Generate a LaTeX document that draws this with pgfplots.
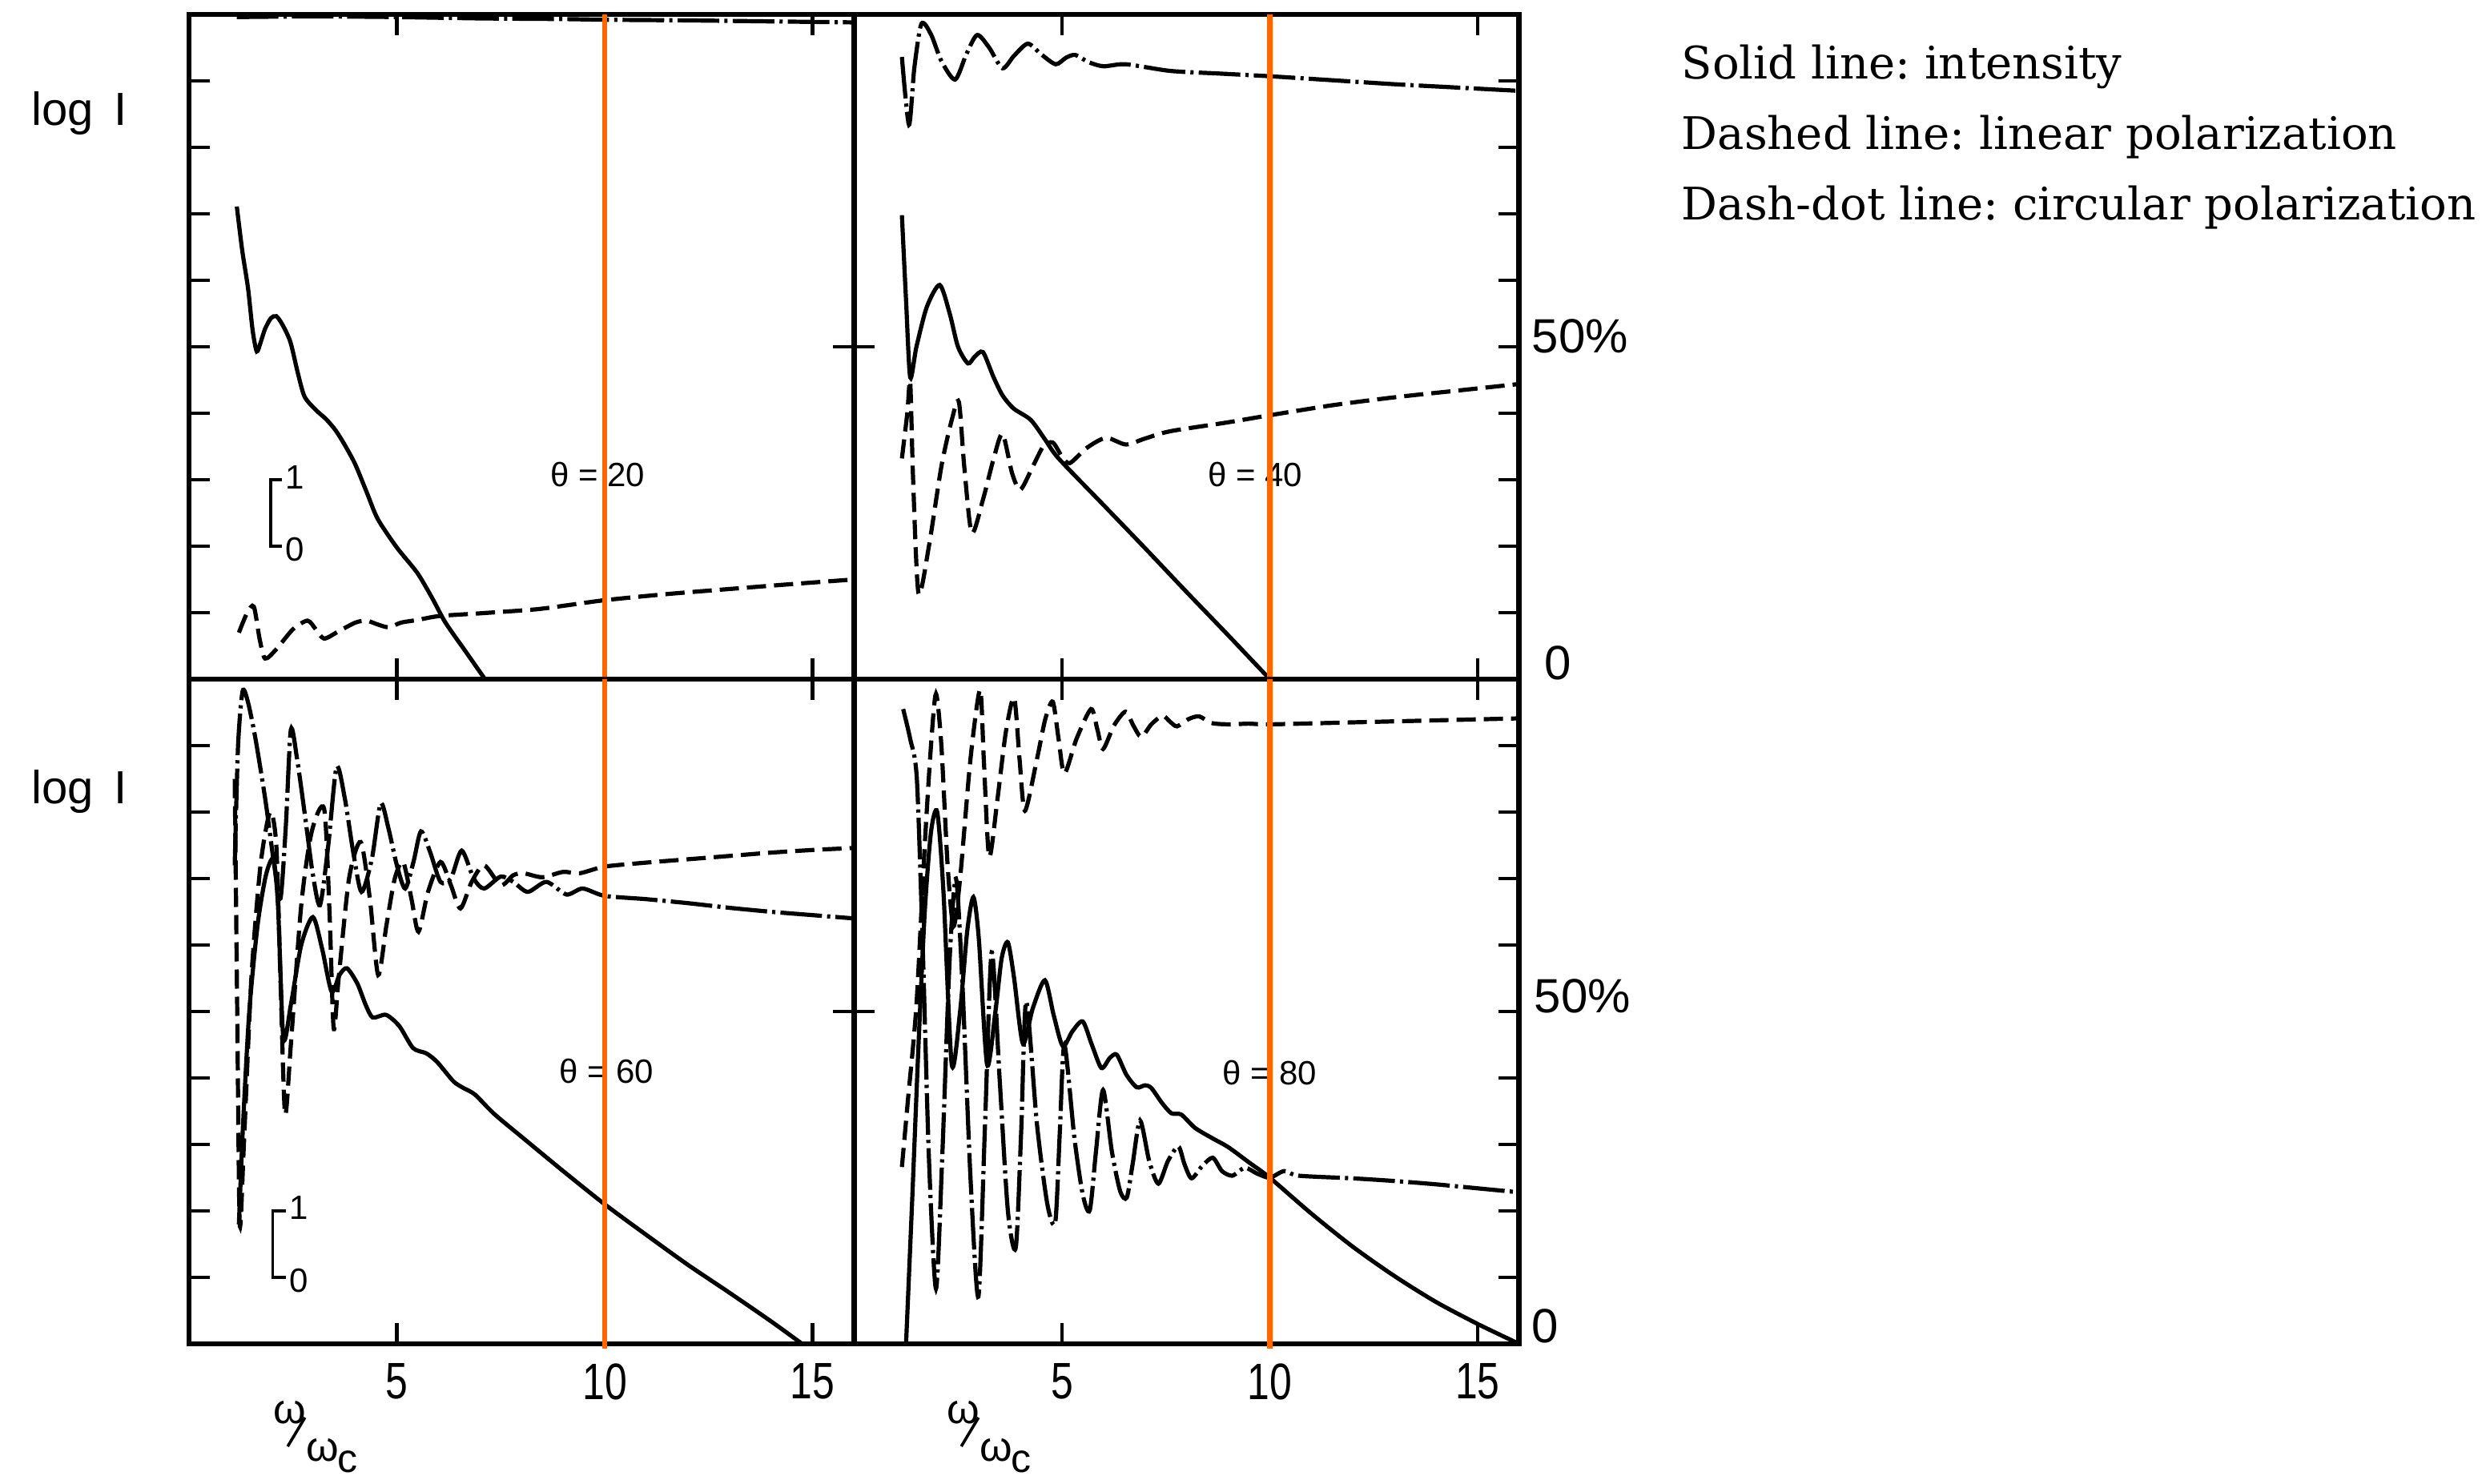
\documentclass[border=0pt]{standalone}
\usepackage{pgfplots}
\pgfplotsset{compat=1.18}
\usepackage{fontspec}
\setmainfont{Liberation Sans}
\newfontfamily\legfont{DejaVu Serif}
\definecolor{orng}{RGB}{255,102,0}
\newcommand\fs[1]{\fontsize{#1}{#1}\selectfont}
\newcommand\nrw[1]{\scalebox{0.78}[1]{#1}}
\frenchspacing
\pgfplotsset{
 panel/.style={scale only axis, width=207.6pt, height=207.5pt, anchor=north west,
   xmin=0, xmax=16, ymin=0, ymax=100, xtick={5,10,15}, ytick={10,20,...,90},
   xticklabel=\empty, yticklabel=\empty, tick align=inside, major tick length=6.5pt,
   tick style={black, line width=1.2pt}, axis line style={line width=1.7pt}, clip=false},
 sol/.style={black, line width=1.3pt, smooth, tension=0.45, no marks},
 dsh/.style={black, line width=1.3pt, smooth, tension=0.45, no marks, dash pattern=on 6pt off 2.5pt},
 dd/.style={black, line width=1.3pt, smooth, tension=0.45, no marks, dash pattern=on 13pt off 1.6pt on 1pt off 1.6pt},
}
\begin{document}
\begin{tikzpicture}[x=1pt,y=1pt]
\useasboundingbox (0,0) rectangle (776,-463);
\fill[white] (0,0) rectangle (776,-463);

% ---------- top left, theta = 20
\begin{axis}[panel, at={(59pt,-4.5pt)}, ytick pos=left]
\addplot[dd] coordinates {(1.15,99.6) (3,99.7) (5,99.6) (7,99.4) (9,99.3) (10,99.2) (12,99.1) (14,98.95) (16,98.8)};
\addplot[dsh] coordinates {(1.2,7) (1.4,10) (1.56,10.9) (1.7,6) (1.83,3.1) (2.1,4.5) (2.5,7.5) (2.85,8.8) (3.05,7.5) (3.25,6.1) (3.6,7.2) (4.0,8.5) (4.27,8.8) (4.55,8.2) (4.81,7.8) (5.1,8.5) (5.49,8.9) (6.03,9.5) (7,9.9) (8.34,10.5) (9.2,11.2) (10.03,11.9) (11.5,12.8) (13.08,13.6) (14.5,14.3) (16,15)};
\addplot[sol] coordinates {(1.15,71.1) (1.28,64.5) (1.42,58.8) (1.53,52.5) (1.63,49.3) (1.73,50.8) (1.83,52.7) (1.97,54.3) (2.1,54.6) (2.25,53.3) (2.44,50.7) (2.62,46) (2.78,42.5) (3.05,40.5) (3.3,39.1) (3.53,37.4) (3.75,35.2) (4.0,32.3) (4.27,28.2) (4.54,24.1) (5.0,19.8) (5.49,16) (5.85,12.2) (6.17,8.5) (6.65,4.2) (7.12,0)};
\draw[line width=1.2pt] (axis cs:16,50) -- ++(-6.5pt,0pt);
\draw[line width=0.9pt] (axis cs:2.24,30) -- (axis cs:1.97,30) -- (axis cs:1.97,20) -- (axis cs:2.24,20);
\node[anchor=west, font=\fs{10.5}, inner sep=0pt] at (axis cs:2.3,30.3) {1};
\node[anchor=west, font=\fs{10.5}, inner sep=0pt] at (axis cs:2.3,19.5) {0};
\node[font=\fs{10.5}] at (axis cs:9.83,30.8) {θ = 20};
\draw[orng, line width=1.7pt] (axis cs:10,0) -- (axis cs:10,100);
\end{axis}

% ---------- top right, theta = 40
\begin{axis}[panel, at={(266.6pt,-4.5pt)}, ytick pos=right]
\addplot[dd] coordinates {(1.15,93.6) (1.32,83.4) (1.45,92) (1.62,98.6) (1.85,97) (2.1,93) (2.43,90.2) (2.7,94) (2.96,96.9) (3.25,95) (3.57,91.9) (3.85,93.8) (4.18,95.6) (4.5,94) (4.85,92.5) (5.1,93.5) (5.32,93.9) (5.65,92.8) (6.0,92.2) (6.54,92.5) (7.61,91.5) (8.8,91.1) (10.0,90.7) (11.5,90.1) (13.0,89.5) (14.5,89) (16,88.5)};
\addplot[dsh] coordinates {(1.15,33.2) (1.28,40) (1.35,44.7) (1.42,30) (1.55,12.9) (1.8,20) (2.1,32) (2.35,39) (2.52,41.7) (2.65,32) (2.83,22) (3.1,27) (3.35,33) (3.57,36.9) (3.8,31) (4.0,28.5) (4.3,32) (4.55,35) (4.78,35.6) (5.0,33.5) (5.19,32.5) (5.6,34.8) (6.06,36.3) (6.54,35.3) (7.0,36.2) (7.61,37.3) (8.96,38.6) (10.0,39.7) (11.5,41.2) (13.0,42.4) (14.5,43.4) (16,44.4)};
\addplot[sol] coordinates {(1.15,69.8) (1.25,57) (1.35,45.4) (1.5,50) (1.75,56) (2.06,59.3) (2.3,55) (2.5,50) (2.74,47.5) (2.9,48.5) (3.1,49.2) (3.35,45.5) (3.57,42.7) (3.84,40.7) (4.25,39) (4.6,36) (4.92,33.2) (6,26.2) (7,19.7) (8,13.1) (9,6.6) (10,0)};
\draw[line width=1.2pt] (axis cs:0,50) -- ++(6.5pt,0pt);
\node[font=\fs{10.5}] at (axis cs:9.65,30.8) {θ = 40};
\draw[orng, line width=1.7pt] (axis cs:10,0) -- (axis cs:10,100);
\end{axis}

% ---------- bottom left, theta = 60
\begin{axis}[panel, at={(59pt,-212pt)}, ytick pos=left]
\addplot[dd] coordinates {(1.1,72) (1.18,90) (1.29,98.2) (1.42,96.5) (1.6,91) (1.84,81.7) (2.05,72) (2.2,67) (2.33,78) (2.45,92.4) (2.6,88) (2.8,79) (2.97,71) (3.15,66) (3.35,75) (3.55,86.8) (3.75,82) (3.95,74) (4.15,68) (4.4,73) (4.61,81.3) (4.8,77.5) (5.0,72) (5.2,68.5) (5.4,72.5) (5.58,77.1) (5.8,74) (6.05,69.5) (6.3,70) (6.56,74.2) (6.85,70) (7.1,68.5) (7.5,70.3) (7.8,69.5) (8.15,68) (8.6,69.5) (9.08,67.6) (9.47,68.5) (10,67.4) (11,66.9) (12,66.3) (13,65.6) (14,65) (15,64.5) (16,64)};
\addplot[dsh] coordinates {(1.1,85) (1.16,50) (1.22,18) (1.32,30) (1.5,55) (1.72,72) (1.95,80) (2.1,75) (2.2,55) (2.31,34.6) (2.45,45) (2.7,66) (2.95,77) (3.25,80.5) (3.38,65) (3.48,47.5) (3.6,55) (3.85,70) (4.13,75.5) (4.35,67) (4.55,55.5) (4.75,63) (4.95,70) (5.15,72.5) (5.35,67) (5.52,62) (5.75,68) (6.05,72.5) (6.3,69) (6.53,65.5) (6.8,69.5) (7.1,72) (7.5,69) (7.8,70.5) (8.05,70.8) (8.5,70.2) (9.0,71) (9.4,70.8) (10,71.8) (11,72.4) (12,72.9) (13,73.4) (14,73.9) (15,74.3) (16,74.6)};
\addplot[sol] coordinates {(1.2,18) (1.3,33) (1.45,50) (1.65,63) (1.85,70.5) (2.03,72.9) (2.14,66) (2.27,46) (2.45,51) (2.7,60) (2.98,64.2) (3.2,59.5) (3.43,53) (3.62,55.5) (3.8,56.5) (4.05,54.2) (4.25,51) (4.42,49.1) (4.74,49.5) (5.06,47.8) (5.39,44.5) (5.71,43.7) (5.97,42.4) (6.36,39.5) (6.6,38.5) (6.88,37.5) (7.34,34.6) (8.05,30.9) (9.0,26) (10,21) (11,16.4) (12,11.9) (13,7.7) (14,3.4) (14.75,0)};
\draw[line width=1.2pt] (axis cs:16,50) -- ++(-6.5pt,0pt);
\draw[line width=0.9pt] (axis cs:2.34,20) -- (axis cs:2.01,20) -- (axis cs:2.01,10) -- (axis cs:2.34,10);
\node[anchor=west, font=\fs{10.5}, inner sep=0pt] at (axis cs:2.4,20.5) {1};
\node[anchor=west, font=\fs{10.5}, inner sep=0pt] at (axis cs:2.4,9.5) {0};
\node[font=\fs{10.5}] at (axis cs:10.04,41) {θ = 60};
\draw[orng, line width=1.7pt] (axis cs:10,-0.7) -- (axis cs:10,100);
\end{axis}

% ---------- bottom right, theta = 80
\begin{axis}[panel, at={(266.6pt,-212pt)}, ytick pos=right]
\addplot[dsh] coordinates {(1.15,26.6) (1.3,37) (1.5,51) (1.7,75) (1.85,90) (1.97,97.8) (2.1,90) (2.25,72) (2.39,62.8) (2.55,70) (2.8,88) (3.03,98.4) (3.12,88) (3.25,73.3) (3.45,82) (3.65,92) (3.85,97.2) (3.98,88) (4.11,80.2) (4.4,88) (4.6,94) (4.78,96.6) (4.92,91) (5.06,85.8) (5.35,91) (5.7,95.5) (5.85,92.5) (5.99,89.5) (6.25,93) (6.53,95.1) (6.72,93) (6.91,91.3) (7.15,93.2) (7.42,94.5) (7.6,93.6) (7.77,92.9) (8.05,94) (8.3,94.4) (8.6,93.4) (9.0,93.2) (9.5,93.3) (10,93.2) (12,93.5) (14,93.8) (16,94.1)};
\addplot[dd] coordinates {(1.18,95.5) (1.35,91) (1.51,85) (1.65,60) (1.8,28) (1.97,8.3) (2.12,28) (2.3,58) (2.45,70) (2.6,55) (2.8,25) (2.99,7.1) (3.15,33) (3.31,58.9) (3.5,40) (3.7,20) (3.89,14.5) (4.02,32) (4.14,51.5) (4.4,33) (4.65,21) (4.84,18.3) (4.95,32) (5.06,45) (5.3,31) (5.5,22.5) (5.67,20.1) (5.82,29) (5.99,38.2) (6.2,29) (6.4,23) (6.56,22) (6.7,27) (6.88,33.6) (7.1,27.5) (7.32,24.1) (7.55,27.5) (7.8,29.7) (7.95,27) (8.12,24.9) (8.38,26.8) (8.63,28) (8.85,26) (9.1,25.3) (9.4,26.5) (9.7,25.6) (10,25) (10.35,26) (10.7,25.3) (12,24.9) (13,24.5) (14,24) (15,23.4) (16,22.8)};
\addplot[sol] coordinates {(1.25,0) (1.4,22) (1.55,45) (1.7,65) (1.85,77) (2.0,80) (2.15,68) (2.35,42) (2.55,50) (2.72,62) (2.87,67.2) (3.0,61) (3.2,42) (3.4,50) (3.55,58) (3.7,60.4) (3.85,55) (4.06,45.2) (4.3,50.5) (4.59,54.7) (4.8,49.5) (5.02,44.8) (5.25,47) (5.5,48.5) (5.72,45) (5.95,41.5) (6.15,43) (6.32,43.5) (6.55,40.5) (6.8,38.6) (7.0,38.9) (7.15,38.5) (7.4,36.3) (7.63,34.7) (7.87,34.5) (8.2,32.5) (8.6,31) (9.0,29.6) (9.5,27.3) (10,25) (11,19.6) (12,14.6) (13,10.2) (14,6.3) (15,3) (16,0)};
\draw[line width=1.2pt] (axis cs:0,50) -- ++(6.5pt,0pt);
\node[font=\fs{10.5}] at (axis cs:10,40.8) {θ = 80};
\draw[orng, line width=1.7pt] (axis cs:10,-0.7) -- (axis cs:10,100);
\end{axis}

% ---------- labels
\node[font=\fs{14.5}] at (24.75,-35.5) {log\hspace{0.45em}I};
\node[font=\fs{14.5}] at (24.75,-247) {log\hspace{0.45em}I};
\node[font=\fs{15}, anchor=west, inner sep=0pt] at (478,-105) {50\%};
\node[font=\fs{15}] at (486.25,-207) {0};
\node[font=\fs{15}, anchor=west, inner sep=0pt] at (478.75,-311) {50\%};
\node[font=\fs{15}] at (482.25,-414) {0};
\foreach \xx/\lab in {123.9/5, 188.75/10, 253.6/15, 331.5/5, 396.35/10, 461.2/15}
  \node[font=\fs{16}] at (\xx,-431.25) {\nrw{\lab}};
\foreach \dx in {0, 210.25}{
  \node[font=\fs{13}] at (90.4+\dx,-441) {ω};
  \draw[line width=0.9pt] (95.2+\dx,-442.5) -- (89.8+\dx,-451.5);
  \node[font=\fs{13}] at (100.8+\dx,-452.8) {ω};
  \node[font=\fs{12.5}] at (108.6+\dx,-456.2) {c};
}
\node[anchor=base west, font=\legfont\fs{14}, inner sep=0pt] at (524.75,-24.5) {Solid line: intensity};
\node[anchor=base west, font=\legfont\fs{14}, inner sep=0pt] at (524.75,-46.5) {Dashed line: linear polarization};
\node[anchor=base west, font=\legfont\fs{14}, inner sep=0pt] at (524.75,-68.5) {Dash-dot line: circular polarization};
\end{tikzpicture}
\end{document}
